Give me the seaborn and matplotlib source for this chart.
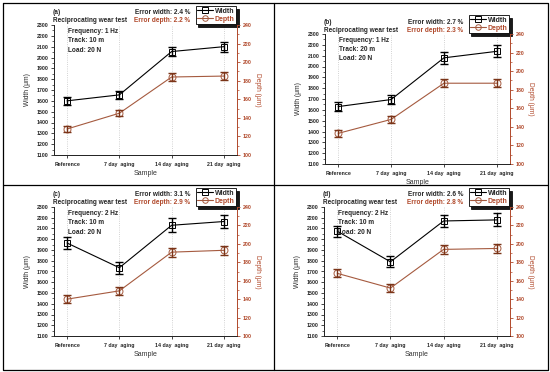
import matplotlib
matplotlib.use("Agg")
import matplotlib.pyplot as plt
import seaborn as sns
import numpy as np
import pandas as pd
from matplotlib.lines import Line2D

samples = ["Reference", "7 day  aging", "14 day  aging", "21 day  aging"]

width_a = [1600, 1655, 2055, 2100]
width_b = [1630, 1695, 2080, 2140]
width_c = [1965, 1735, 2130, 2165]
width_d = [2075, 1790, 2170, 2180]
width_err_a = [40, 40, 45, 45]
width_err_b = [45, 45, 55, 55]
width_err_c = [55, 55, 65, 65]
width_err_d = [50, 50, 60, 60]

depth_a = [128, 145, 184, 185]
depth_b = [133, 148, 187, 187]
depth_c = [140, 149, 191, 193]
depth_d = [168, 152, 194, 195]
depth_err_a = [3, 3, 4, 4]
depth_err_b = [3.5, 3.5, 4, 4]
depth_err_c = [4, 4, 5, 5]
depth_err_d = [4.5, 4.5, 5, 5]

labels = ["(a)", "(b)", "(c)", "(d)"]
freqs = ["1 Hz", "1 Hz", "2 Hz", "2 Hz"]
tracks = ["10 m", "20 m", "10 m", "10 m"]
err_width = ["2.4 %", "2.7 %", "3.1 %", "2.6 %"]
err_depth = ["2.2 %", "2.3 %", "2.9 %", "2.8 %"]

sns.set_style("ticks")
plt.rcParams['font.family'] = ['Liberation Sans', 'DejaVu Sans']

W, H = 550, 372
fig = plt.figure(figsize=(5.5, 3.72), dpi=100)
BROWN = '#B0482A'
LINE_BROWN = '#A55A3F'
FS = 4.7

def fx(x):
    return x / W

def fy(y):
    return 1 - y / H

# axes boxes in pixels: left, right, top, bottom
boxes = [(54, 237, 25, 155), (325, 510, 34, 164), (54, 237, 207, 336), (324, 510, 207, 336)]
widths = [width_a, width_b, width_c, width_d]
werrs = [width_err_a, width_err_b, width_err_c, width_err_d]
depths = [depth_a, depth_b, depth_c, depth_d]
derrs = [depth_err_a, depth_err_b, depth_err_c, depth_err_d]

for i in range(4):
    l, r, t, b = boxes[i]
    ax = fig.add_axes([fx(l), fy(b), (r - l) / W, (b - t) / H])
    ax2 = ax.twinx()
    pos = np.arange(len(samples))
    df = pd.DataFrame({"pos": pos, "width": widths[i], "depth": depths[i]})

    for p in pos:
        ax.axvline(p, color='#c4c4c4', lw=0.6, ls=':', zorder=0)

    sns.lineplot(data=df, x="pos", y="width", ax=ax, color='black', lw=0.8,
                 marker='s', markersize=5, markerfacecolor='none',
                 markeredgecolor='black', markeredgewidth=0.7, zorder=3)
    ax.errorbar(pos, widths[i], yerr=werrs[i], fmt='none', ecolor='black',
                elinewidth=1.0, capsize=2.6, capthick=1.0, zorder=4)

    sns.lineplot(data=df, x="pos", y="depth", ax=ax2, color=LINE_BROWN, lw=0.8,
                 marker='o', markersize=5, markerfacecolor='none',
                 markeredgecolor=LINE_BROWN, markeredgewidth=0.7, zorder=3)
    ax2.errorbar(pos, depths[i], yerr=derrs[i], fmt='none', ecolor='#7a3418',
                 elinewidth=1.0, capsize=2.6, capthick=1.0, zorder=4)

    ax.set_xlim(-0.25, 3.25)
    ax.set_ylim(1100, 2300)
    ax2.set_ylim(100, 240)
    ax.set_yticks(np.arange(1100, 2301, 100))
    ax.set_yticks(np.arange(1150, 2300, 100), minor=True)
    ax2.set_yticks(np.arange(100, 241, 20))
    ax2.set_yticks(np.arange(110, 240, 20), minor=True)
    ax.set_xticks(pos)
    ax.set_xticklabels(samples, fontsize=3.8, fontweight='bold')
    ax.tick_params(axis='y', labelsize=3.8, length=2.5, width=0.6, pad=1.5)
    ax.tick_params(axis='y', which='minor', length=1.5, width=0.5)
    ax.tick_params(axis='x', length=2.5, width=0.6, pad=2.5)
    ax2.tick_params(axis='y', labelsize=3.8, length=2.5, width=0.6, pad=1.5,
                    colors=BROWN)
    ax2.tick_params(axis='y', which='minor', length=1.5, width=0.5, colors=BROWN)
    for lab in ax.get_yticklabels() + ax2.get_yticklabels():
        lab.set_fontweight('bold')

    ax.set_xlabel("Sample", fontsize=5, color='#333333', labelpad=2)
    ax.set_ylabel("Width (μm)", fontsize=4.8, labelpad=4)
    ax2.set_ylabel("Depth (μm)", fontsize=4.8, color=BROWN,
                   rotation=270, labelpad=7)

    for a in (ax, ax2):
        a.spines['top'].set_visible(False)
        a.spines['left'].set_linewidth(0.7)
        a.spines['bottom'].set_linewidth(0.7)
        a.spines['right'].set_linewidth(0.7)
    ax2.spines['right'].set_color(BROWN)
    ax.spines['right'].set_visible(False)

    # header texts
    fig.text(fx(l - 1), fy(t - 12), labels[i], fontsize=FS, fontweight='bold',
             va='center', ha='left')
    fig.text(fx(l - 1), fy(t - 4), "Reciprocating wear test", fontsize=FS,
             fontweight='bold', va='center', ha='left')
    fig.text(fx(r - 47), fy(t - 12), "Error width: " + err_width[i], fontsize=FS,
             fontweight='bold', va='center', ha='right')
    fig.text(fx(r - 47), fy(t - 4), "Error depth: " + err_depth[i], fontsize=FS,
             fontweight='bold', va='center', ha='right', color=BROWN)
    info = "Frequency: " + freqs[i] + "\nTrack: " + tracks[i] + "\nLoad: 20 N"
    fig.text(fx(l + 14), fy(t + 3), info, fontsize=FS, fontweight='bold',
             va='top', ha='left', linespacing=1.45)

    handles = [Line2D([], [], color='black', lw=0.8, marker='s', markersize=4,
                      markerfacecolor='none', markeredgewidth=0.7),
               Line2D([], [], color=LINE_BROWN, lw=0.8, marker='o', markersize=4,
                      markerfacecolor='none', markeredgewidth=0.7)]
    leg = ax.legend(handles, ["Width", "Depth"], loc='lower right',
                    bbox_to_anchor=(1.0, 1.0), frameon=True,
                    fancybox=False, shadow={'color': 'black', 'alpha': 0.9},
                    edgecolor='black',
                    handlelength=2.3, handletextpad=0.2, borderpad=0.25,
                    labelspacing=0.15, borderaxespad=0.1,
                    prop={'weight': 'bold', 'size': 5.0})
    leg.get_frame().set_linewidth(0.6)
    leg.get_texts()[1].set_color(BROWN)

# panel frames
frame_kw = dict(color='black', lw=0.9, transform=fig.transFigure)
fig.add_artist(Line2D([fx(3), fx(548), fx(548), fx(3), fx(3)],
                      [fy(3), fy(3), fy(370), fy(370), fy(3)], **frame_kw))
fig.add_artist(Line2D([fx(274), fx(274)], [fy(3), fy(370)], **frame_kw))
fig.add_artist(Line2D([fx(3), fx(548)], [fy(185), fy(185)], **frame_kw))

fig.savefig("out.png", dpi=100)
